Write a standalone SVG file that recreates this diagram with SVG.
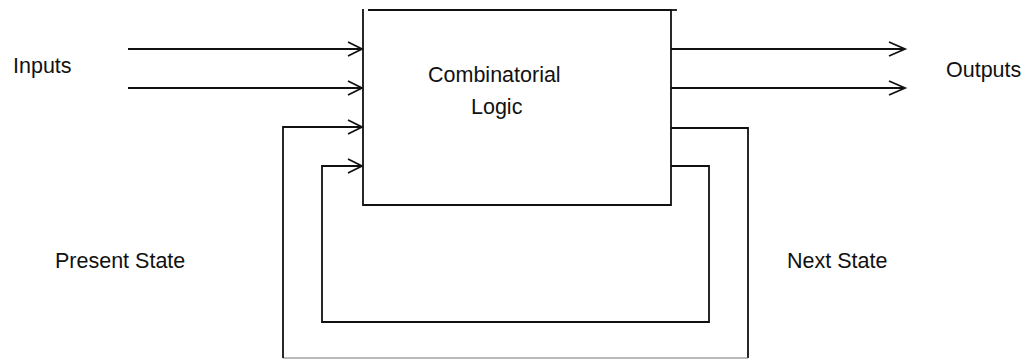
<svg xmlns="http://www.w3.org/2000/svg" width="1029" height="360" viewBox="0 0 1029 360">
<style>
.lbl{font-family:"Liberation Sans",Arial,sans-serif;font-size:21.5px;fill:#111}
.ln{fill:none;stroke:#111;stroke-width:1.8;stroke-linejoin:miter}
.box{fill:#fff;stroke:#111;stroke-width:2}
</style>
<defs>
<marker id="arr" markerUnits="userSpaceOnUse" markerWidth="20" markerHeight="20" refX="15" refY="8" orient="auto">
<path d="M1,1 L15,8 L1,15" fill="none" stroke="#111" stroke-width="1.8"/>
</marker>
<marker id="arrO" markerUnits="userSpaceOnUse" markerWidth="22" markerHeight="22" refX="17" refY="9" orient="auto">
<path d="M1,2 L17,9 L1,16" fill="none" stroke="#111" stroke-width="1.8"/>
</marker>
</defs>
<g id="connectors">
<line class="ln" x1="128" y1="49" x2="362" y2="49" marker-end="url(#arr)"/>
<line class="ln" x1="128" y1="88" x2="362" y2="88" marker-end="url(#arr)"/>
<line class="ln" x1="671" y1="49" x2="905" y2="49" marker-end="url(#arrO)"/>
<line class="ln" x1="671" y1="88" x2="905" y2="88" marker-end="url(#arrO)"/>
<polyline class="ln" points="671,128 748,128 748,358"/>
<line x1="283" y1="358" x2="748" y2="358" stroke="#777" stroke-width="1.2"/>
<polyline class="ln" points="283,358 283,127 362,127" marker-end="url(#arr)"/>
<polyline class="ln" points="671,166 709,166 709,322 322,322 322,166 362,166" marker-end="url(#arr)"/>
</g>
<g id="logic">
<polyline class="ln" points="363,9 363,205 671,205 671,10 368,10"/>
<line class="ln" x1="671" y1="10" x2="677" y2="10"/>
<text class="lbl" x="428" y="82">Combinatorial</text>
<text class="lbl" x="471" y="114">Logic</text>
</g>
<g id="labels">
<text class="lbl" x="13" y="73">Inputs</text>
<text class="lbl" x="946" y="77">Outputs</text>
<text class="lbl" x="55" y="268">Present State</text>
<text class="lbl" x="787" y="268">Next State</text>
</g>
</svg>
